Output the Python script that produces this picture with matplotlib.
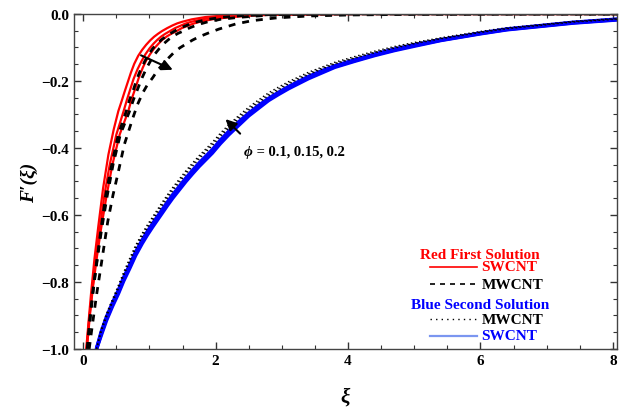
import matplotlib
matplotlib.use("Agg")
import matplotlib.pyplot as plt
from matplotlib.ticker import MultipleLocator

SERIF = ["Liberation Serif", "DejaVu Serif"]

# first solution, SWCNT (red), phi = 0.1, 0.15, 0.2
red_x1 = [0.045, 0.08, 0.12, 0.17, 0.23, 0.30, 0.38, 0.46, 0.53, 0.58, 0.62, 0.67, 0.72, 0.77, 0.83, 0.89,
          0.95, 1.01, 1.07, 1.13, 1.19, 1.27, 1.35, 1.42, 1.50, 1.64, 1.85, 2.1, 2.5, 3.0, 4.0, 5.0, 6.5, 8.1]
red_y1 = [-1.0, -0.92, -0.83, -0.73, -0.63, -0.52, -0.42, -0.345, -0.29, -0.26, -0.235, -0.205, -0.175,
          -0.149, -0.125, -0.107, -0.092, -0.079, -0.068, -0.059, -0.051, -0.042, -0.034, -0.028, -0.023,
          -0.016, -0.009, -0.005, -0.002, -0.001, 0, 0, 0, 0]
red_x2 = [0.05, 0.09, 0.14, 0.19, 0.25, 0.32, 0.40, 0.50, 0.61, 0.66, 0.71, 0.76, 0.82, 0.88, 0.94, 1.00,
          1.06, 1.12, 1.18, 1.24, 1.31, 1.39, 1.47, 1.54, 1.62, 1.79, 2.0, 2.3, 2.7, 3.2, 4.0, 5.0, 6.5, 8.1]
red_y2 = [-1.0, -0.91, -0.82, -0.73, -0.64, -0.54, -0.45, -0.36, -0.29, -0.256, -0.225, -0.194, -0.165,
          -0.141, -0.12, -0.103, -0.089, -0.077, -0.067, -0.059, -0.051, -0.042, -0.035, -0.029, -0.024,
          -0.016, -0.010, -0.005, -0.002, -0.001, 0, 0, 0, 0]
red_x3 = [0.055, 0.10, 0.15, 0.21, 0.27, 0.35, 0.44, 0.55, 0.68, 0.73, 0.79, 0.84, 0.90, 0.95, 1.01, 1.07,
          1.14, 1.20, 1.27, 1.34, 1.41, 1.49, 1.58, 1.66, 1.75, 1.94, 2.2, 2.5, 2.9, 3.4, 4.2, 5.0, 6.5, 8.1]
red_y3 = [-1.0, -0.90, -0.81, -0.72, -0.64, -0.545, -0.45, -0.36, -0.29, -0.255, -0.22, -0.19, -0.16,
          -0.139, -0.12, -0.103, -0.088, -0.076, -0.066, -0.058, -0.051, -0.042, -0.035, -0.029, -0.024,
          -0.016, -0.010, -0.005, -0.002, -0.001, 0, 0, 0, 0]

# first solution, MWCNT (black dashed)
dash_x1 = [0.06, 0.10, 0.15, 0.21, 0.27, 0.34, 0.43, 0.53, 0.65, 0.70, 0.76, 0.81, 0.87, 0.93, 0.99, 1.05,
           1.12, 1.18, 1.25, 1.31, 1.38, 1.46, 1.55, 1.63, 1.71, 1.88, 2.1, 2.4, 2.8, 3.3, 4.1, 5.0, 6.5, 8.1]
dash_y1 = red_y2
dash_x2 = [0.065, 0.11, 0.16, 0.22, 0.28, 0.36, 0.45, 0.56, 0.70, 0.76, 0.83, 0.89, 0.96, 1.02, 1.08, 1.15,
           1.22, 1.29, 1.36, 1.43, 1.51, 1.60, 1.69, 1.78, 1.87, 2.07, 2.35, 2.7, 3.1, 3.6, 4.4, 5.2, 6.5, 8.1]
dash_y2 = red_y3
dash_x3 = [0.09, 0.13, 0.20, 0.27, 0.37, 0.45, 0.52, 0.62, 0.75, 0.82, 0.90, 0.97, 1.05, 1.12, 1.20, 1.29,
           1.375, 1.46, 1.55, 1.65, 1.75, 1.90, 2.05, 2.3, 2.55, 2.9, 3.4, 4.0, 5.0, 6.5, 8.1]
dash_y3 = [-1.0, -0.94, -0.84, -0.75, -0.62, -0.54, -0.48, -0.39, -0.31, -0.27, -0.235, -0.211, -0.19,
           -0.169, -0.15, -0.131, -0.114, -0.101, -0.090, -0.078, -0.068, -0.056, -0.045, -0.030, -0.020,
           -0.012, -0.006, -0.003, -0.001, 0, 0]

# second solution: blue SWCNT and dotted MWCNT, phi = 0.1, 0.15, 0.2
xi_b = [0.20, 0.27, 0.35, 0.44, 0.53, 0.61, 0.70, 0.79, 0.89, 0.97, 1.05, 1.12, 1.19, 1.27, 1.35, 1.45,
        1.55, 1.65, 1.75, 1.85, 1.95, 2.07, 2.2, 2.35, 2.5, 2.65, 2.8, 2.95, 3.1, 3.25, 3.4, 3.6, 3.8, 4.1,
        4.4, 4.7, 5.0, 5.4, 6.0, 6.4, 7.0, 7.4, 8.1]
blue_1 = [-1.0, -0.95, -0.905, -0.863, -0.825, -0.787, -0.75, -0.711, -0.675, -0.649, -0.625, -0.605,
          -0.585, -0.562, -0.54, -0.515, -0.49, -0.467, -0.445, -0.425, -0.405, -0.377, -0.35, -0.322,
          -0.296, -0.273, -0.252, -0.234, -0.217, -0.202, -0.187, -0.170, -0.155, -0.137, -0.120, -0.105,
          -0.092, -0.077, -0.057, -0.045, -0.033, -0.025, -0.015]
blue_2 = [-1.0, -0.955, -0.91, -0.868, -0.83, -0.792, -0.755, -0.716, -0.68, -0.654, -0.63, -0.61,
          -0.59, -0.567, -0.545, -0.52, -0.495, -0.472, -0.45, -0.43, -0.41, -0.382, -0.355, -0.327,
          -0.30, -0.277, -0.255, -0.237, -0.22, -0.205, -0.19, -0.173, -0.157, -0.139, -0.122, -0.107,
          -0.094, -0.078, -0.058, -0.046, -0.034, -0.026, -0.016]
blue_3 = [-1.0, -0.96, -0.915, -0.873, -0.835, -0.797, -0.76, -0.721, -0.685, -0.659, -0.635, -0.615,
          -0.595, -0.572, -0.55, -0.525, -0.50, -0.477, -0.455, -0.435, -0.415, -0.387, -0.36, -0.332,
          -0.304, -0.281, -0.258, -0.240, -0.223, -0.208, -0.193, -0.176, -0.159, -0.141, -0.124, -0.109,
          -0.096, -0.079, -0.059, -0.047, -0.035, -0.027, -0.017]
dot_1 = [-1.0, -0.94, -0.895, -0.852, -0.81, -0.771, -0.73, -0.691, -0.655, -0.629, -0.605, -0.584,
         -0.563, -0.54, -0.518, -0.493, -0.468, -0.445, -0.423, -0.403, -0.383, -0.356, -0.33, -0.303,
         -0.278, -0.256, -0.235, -0.218, -0.202, -0.188, -0.174, -0.159, -0.144, -0.127, -0.111, -0.097,
         -0.085, -0.071, -0.052, -0.041, -0.030, -0.022, -0.013]
dot_2 = [-1.0, -0.945, -0.90, -0.857, -0.815, -0.776, -0.735, -0.696, -0.66, -0.634, -0.61, -0.589,
         -0.568, -0.545, -0.523, -0.498, -0.473, -0.45, -0.428, -0.408, -0.388, -0.361, -0.335, -0.308,
         -0.283, -0.261, -0.24, -0.223, -0.206, -0.192, -0.178, -0.162, -0.147, -0.130, -0.114, -0.100,
         -0.087, -0.073, -0.054, -0.043, -0.031, -0.023, -0.014]
dot_3 = [-1.0, -0.95, -0.905, -0.862, -0.82, -0.781, -0.74, -0.701, -0.665, -0.639, -0.615, -0.594,
         -0.573, -0.55, -0.528, -0.503, -0.478, -0.455, -0.433, -0.413, -0.393, -0.366, -0.34, -0.313,
         -0.287, -0.265, -0.244, -0.227, -0.209, -0.195, -0.181, -0.165, -0.149, -0.132, -0.116, -0.102,
         -0.089, -0.074, -0.055, -0.044, -0.032, -0.024, -0.015]

fig = plt.figure(figsize=(6.19, 4.14), dpi=100)
ax = fig.add_axes([0.1195, 0.1546, 0.877, 0.8092])

for y in (blue_1, blue_2, blue_3):
    ax.plot(xi_b, y, color="#0000ff", lw=2.6, solid_capstyle="butt")
for y in (dot_1, dot_2, dot_3):
    ax.plot(xi_b, y, color="black", lw=1.0, ls=(0, (1, 2)))
for x, y in ((red_x1, red_y1), (red_x2, red_y2), (red_x3, red_y3)):
    ax.plot(x, y, color="#ff0000", lw=1.6)
for x, y in ((dash_x1, dash_y1), (dash_x2, dash_y2), (dash_x3, dash_y3)):
    ax.plot(x, y, color="black", lw=2.0, ls=(0, (2.5, 2.5)))

ax.annotate("", xy=(1.39, -0.17), xytext=(0.835, -0.12),
            arrowprops=dict(arrowstyle="-|>", color="black", lw=1.5, mutation_scale=16))
ax.annotate("", xy=(2.12, -0.308), xytext=(2.40, -0.363),
            arrowprops=dict(arrowstyle="-|>", color="black", lw=1.5, mutation_scale=16))
ax.text(2.42, -0.41, "\u03d5", fontsize=11, fontweight="bold", fontstyle="italic",
        family=SERIF, va="center", ha="left")
ax.annotate(" = 0.1, 0.15, 0.2", xy=(2.42, -0.41), xytext=(7, 0), textcoords="offset points",
            fontsize=10.5, fontweight="bold", family=SERIF, va="center", ha="left")

ax.set_xlim(-0.14, 8.06)
ax.set_ylim(-1.0, 0.0)
ax.xaxis.set_major_locator(MultipleLocator(2))
ax.xaxis.set_minor_locator(MultipleLocator(0.5))
ax.yaxis.set_major_locator(MultipleLocator(0.2))
ax.yaxis.set_minor_locator(MultipleLocator(0.05))
ax.tick_params(which="both", direction="in", top=True, right=True, colors="#333333")
ax.tick_params(which="major", length=5, width=1)
ax.tick_params(which="minor", length=3, width=0.8)
ax.yaxis.set_major_formatter(plt.FuncFormatter(lambda v, p: f"{v:.1f}".replace("-", "\u2212")))
for lab in ax.get_xticklabels() + ax.get_yticklabels():
    lab.set_fontfamily(SERIF)
    lab.set_fontweight("bold")
    lab.set_fontsize(11)
    lab.set_color("black")
for s in ax.spines.values():
    s.set_color("#444444")
    s.set_linewidth(1.0)

ax.set_xlabel("\u03be", fontsize=15, fontweight="bold", fontstyle="italic", family=SERIF, labelpad=14)
ax.set_ylabel("F\u2032(\u03be)", fontsize=14, fontweight="bold", fontstyle="italic", family=SERIF, labelpad=2)

# legend built by hand, as in the original
tf = dict(fontsize=11, fontweight="bold", family=SERIF, transform=ax.transAxes, va="center", ha="left")
ax.text(0.638, 0.281, "Red First Solution", color="#ff0000", **tf)
ax.text(0.751, 0.245, "SWCNT", color="#ff0000", **tf)
ax.text(0.751, 0.194, "MWCNT", color="black", **tf)
ax.text(0.620, 0.134, "Blue Second Solution", color="#0000ff", **tf)
ax.text(0.751, 0.089, "MWCNT", color="black", **tf)
ax.text(0.751, 0.040, "SWCNT", color="#0000ff", **tf)
ax.plot([0.656, 0.742], [0.245, 0.245], color="#ff0000", lw=1.2, transform=ax.transAxes)
ax.plot([0.656, 0.742], [0.194, 0.194], color="black", lw=1.2, ls=(0, (3, 3)), transform=ax.transAxes)
ax.plot([0.656, 0.742], [0.089, 0.089], color="black", lw=1.0, ls=(0, (1, 3)), transform=ax.transAxes)
ax.plot([0.656, 0.742], [0.040, 0.040], color="#7b96f0", lw=1.6, transform=ax.transAxes)

fig.savefig("out.png", dpi=100)
